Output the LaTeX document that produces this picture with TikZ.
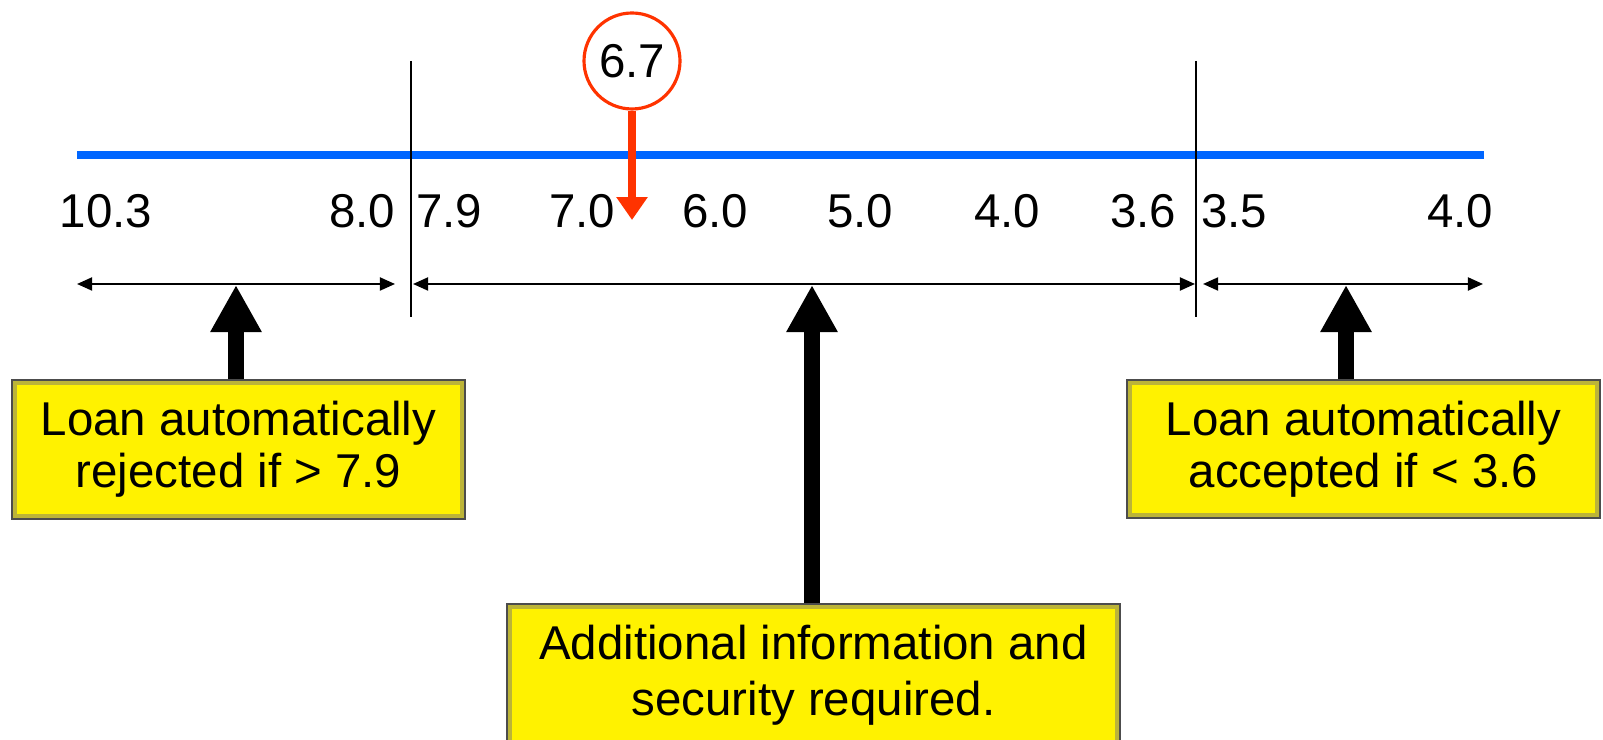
\documentclass[tikz,border=0pt]{standalone}
\usepackage{fontspec}
\setmainfont{Liberation Sans}
\usetikzlibrary{arrows.meta}
\definecolor{scaleblue}{RGB}{0,102,255}
\definecolor{markred}{RGB}{255,51,0}

\begin{document}
\begin{tikzpicture}[
   every node/.style={font=\fontsize{13.5}{15}\selectfont},
   tick/.style={line width=0.7pt},
   span/.style={line width=0.6pt, {Triangle[length=4.3pt,width=3.7pt]}-{Triangle[length=4.3pt,width=3.7pt]}},
   pointer/.style={line width=4.5pt, -{Triangle[length=13.4pt,width=13.7pt]}},
   callout/.style={fill=yellow, draw=black!70, line width=0.6pt, align=center, inner sep=0pt,
      path picture={\draw[yellow!70!black, line width=3pt] (path picture bounding box.south west) rectangle (path picture bounding box.north east);}}
   ]
   \useasboundingbox (0,0) rectangle (16.03,-7.40);
   \coordinate (lo) at (0.77,-1.55);
   \coordinate (hi) at (14.84,-1.55);
   \draw[scaleblue, line width=2.3pt] (lo) -- (hi);
   \coordinate (cut1top) at (4.11,-0.61);
   \coordinate (cut1bot) at (4.11,-3.17);
   \coordinate (cut2top) at (11.96,-0.61);
   \coordinate (cut2bot) at (11.96,-3.17);
   \draw[tick] (cut1top) -- (cut1bot);
   \draw[tick] (cut2top) -- (cut2bot);
   \foreach \x/\v [count=\i] in {1.06/10.3, 3.62/8.0, 4.49/7.9, 5.82/7.0, 7.15/6.0,
         8.60/5.0, 10.07/4.0, 11.43/3.6, 12.34/3.5, 14.60/4.0}
      \node[anchor=base, inner sep=0pt] (lbl\i) at (\x,-2.28) {\v};
   \node[circle, draw=markred, line width=0.9pt, minimum size=0.96cm, inner sep=0pt] (mark) at (6.32,-0.61) {6.7};
   \coordinate (marktip) at (6.32,-2.20);
   \draw[markred, line width=2pt, -{Triangle[length=6.5pt,width=8.5pt]}] (mark) -- (marktip);
   \coordinate (rejl) at (0.77,-2.84);
   \coordinate (rejr) at (3.95,-2.84);
   \coordinate (midl) at (4.13,-2.84);
   \coordinate (midr) at (11.95,-2.84);
   \coordinate (accl) at (12.03,-2.84);
   \coordinate (accr) at (14.83,-2.84);
   \draw[span] (rejl) -- (rejr);
   \draw[span] (midl) -- (midr);
   \draw[span] (accl) -- (accr);
   \node[callout, minimum width=4.53cm, minimum height=1.39cm, font=\fontsize{13.5}{14.8}\selectfont] (reject) at (2.385,-4.495)
      {Loan automatically\\rejected if > 7.9};
   \node[callout, minimum width=4.73cm, minimum height=1.38cm, font=\fontsize{13.5}{14.8}\selectfont] (accept) at (13.635,-4.49)
      {Loan automatically\\accepted if < 3.6};
   \node[callout, minimum width=6.13cm, minimum height=1.42cm, font=\fontsize{13.5}{15.9}\selectfont] (extra) at (8.135,-6.75)
      {Additional information and\\security required.};
   \coordinate (rejtip) at (2.36,-2.85);
   \coordinate (midtip) at (8.12,-2.85);
   \coordinate (acctip) at (13.46,-2.85);
   \draw[pointer] (reject.north -| rejtip) -- (rejtip);
   \draw[pointer] (extra.north -| midtip) -- (midtip);
   \draw[pointer] (accept.north -| acctip) -- (acctip);
\end{tikzpicture}
\end{document}
